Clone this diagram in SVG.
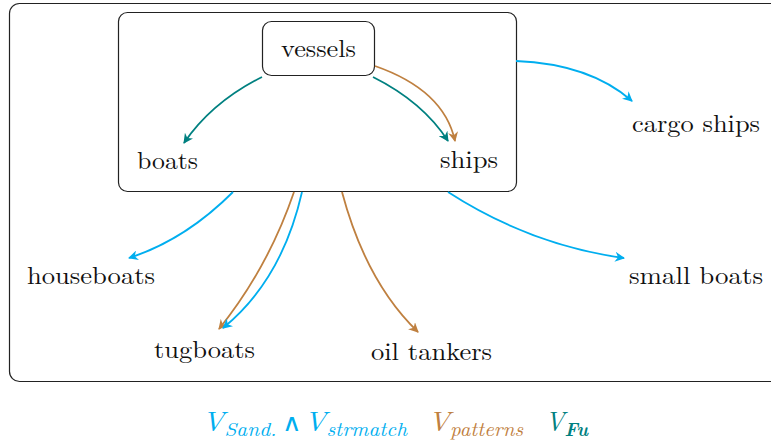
<svg xmlns="http://www.w3.org/2000/svg" width="771" height="445" viewBox="0 0 771 445">
<style>
text{font-family:"Latin Modern Roman","Liberation Serif","DejaVu Serif",serif;font-size:24px;fill:#111}
.box{fill:none;stroke:#222;stroke-width:1.2}
.c{fill:none;stroke:#00AEEF;stroke-width:1.8}
.b{fill:none;stroke:#BF8040;stroke-width:1.8}
.t{fill:none;stroke:#008080;stroke-width:1.8}
.m{font-style:italic;font-size:27px}
.sub{font-style:italic;font-size:19px}
.op{font-size:24px}
</style>
<defs>
<marker id="ac" viewBox="0 0 10 10" refX="9" refY="5" markerWidth="10" markerHeight="10" markerUnits="userSpaceOnUse" orient="auto"><path d="M0,0 L10,5 L0,10 L3,5z" fill="#00AEEF"/></marker>
<marker id="ab" viewBox="0 0 10 10" refX="9" refY="5" markerWidth="10" markerHeight="10" markerUnits="userSpaceOnUse" orient="auto"><path d="M0,0 L10,5 L0,10 L3,5z" fill="#BF8040"/></marker>
<marker id="at" viewBox="0 0 10 10" refX="9" refY="5" markerWidth="10" markerHeight="10" markerUnits="userSpaceOnUse" orient="auto"><path d="M0,0 L10,5 L0,10 L3,5z" fill="#008080"/></marker>
</defs>
<g id="outer"><rect class="box" x="9.5" y="3.5" width="790" height="378" rx="10"/></g>
<g id="inner"><rect class="box" x="118.5" y="12.5" width="398" height="179" rx="9"/></g>
<g id="vessels"><rect class="box" x="262.5" y="21.5" width="112" height="54" rx="9"/><text x="281" y="57" textLength="75" lengthAdjust="spacingAndGlyphs">vessels</text></g>
<g id="boats"><text x="137" y="169" textLength="61" lengthAdjust="spacingAndGlyphs">boats</text></g>
<g id="ships"><text x="440" y="168" textLength="58" lengthAdjust="spacingAndGlyphs">ships</text></g>
<g id="cargo"><text x="632" y="132" textLength="128" lengthAdjust="spacingAndGlyphs">cargo ships</text></g>
<g id="houseboats"><text x="27" y="284" textLength="128" lengthAdjust="spacingAndGlyphs">houseboats</text></g>
<g id="smallboats"><text x="629" y="284" textLength="134" lengthAdjust="spacingAndGlyphs">small boats</text></g>
<g id="tugboats"><text x="154" y="358" textLength="101" lengthAdjust="spacingAndGlyphs">tugboats</text></g>
<g id="oiltankers"><text x="371" y="360" textLength="121" lengthAdjust="spacingAndGlyphs">oil tankers</text></g>
<g id="connectors">
<path class="t" d="M262,77 Q212,102 184,143" marker-end="url(#at)"/>
<path class="t" d="M373,77 Q423,102 448,141" marker-end="url(#at)"/>
<path class="b" d="M375,66 Q444,90 455,141" marker-end="url(#ab)"/>
<path class="c" d="M516,61 Q590,64 632,101" marker-end="url(#ac)"/>
<path class="c" d="M233,192 Q185,240 129,258" marker-end="url(#ac)"/>
<path class="c" d="M448,192 Q530,245 624,258" marker-end="url(#ac)"/>
<path class="b" d="M294,192 Q268,268 219,329" marker-end="url(#ab)"/>
<path class="c" d="M302,192 Q282,280 223,328" marker-end="url(#ac)"/>
<path class="b" d="M342,192 Q366,282 418,332" marker-end="url(#ab)"/>
</g>
<g id="legend">
<text x="202" y="431" style="fill:#00AEEF" textLength="205" lengthAdjust="spacingAndGlyphs"><tspan class="m">V</tspan><tspan class="sub" dy="5">Sand.</tspan><tspan class="op" dy="-5" dx="5">∧</tspan><tspan class="m" dx="2">V</tspan><tspan class="sub" dy="5">strmatch</tspan></text>
<text x="428" y="431" style="fill:#BF8040" textLength="95" lengthAdjust="spacingAndGlyphs"><tspan class="m">V</tspan><tspan class="sub" dy="5">patterns</tspan></text>
<text x="545" y="431" style="fill:#008080" textLength="43" lengthAdjust="spacingAndGlyphs"><tspan class="m">V</tspan><tspan class="sub" dy="5" style="font-weight:bold">Fu</tspan></text>
</g>
</svg>
